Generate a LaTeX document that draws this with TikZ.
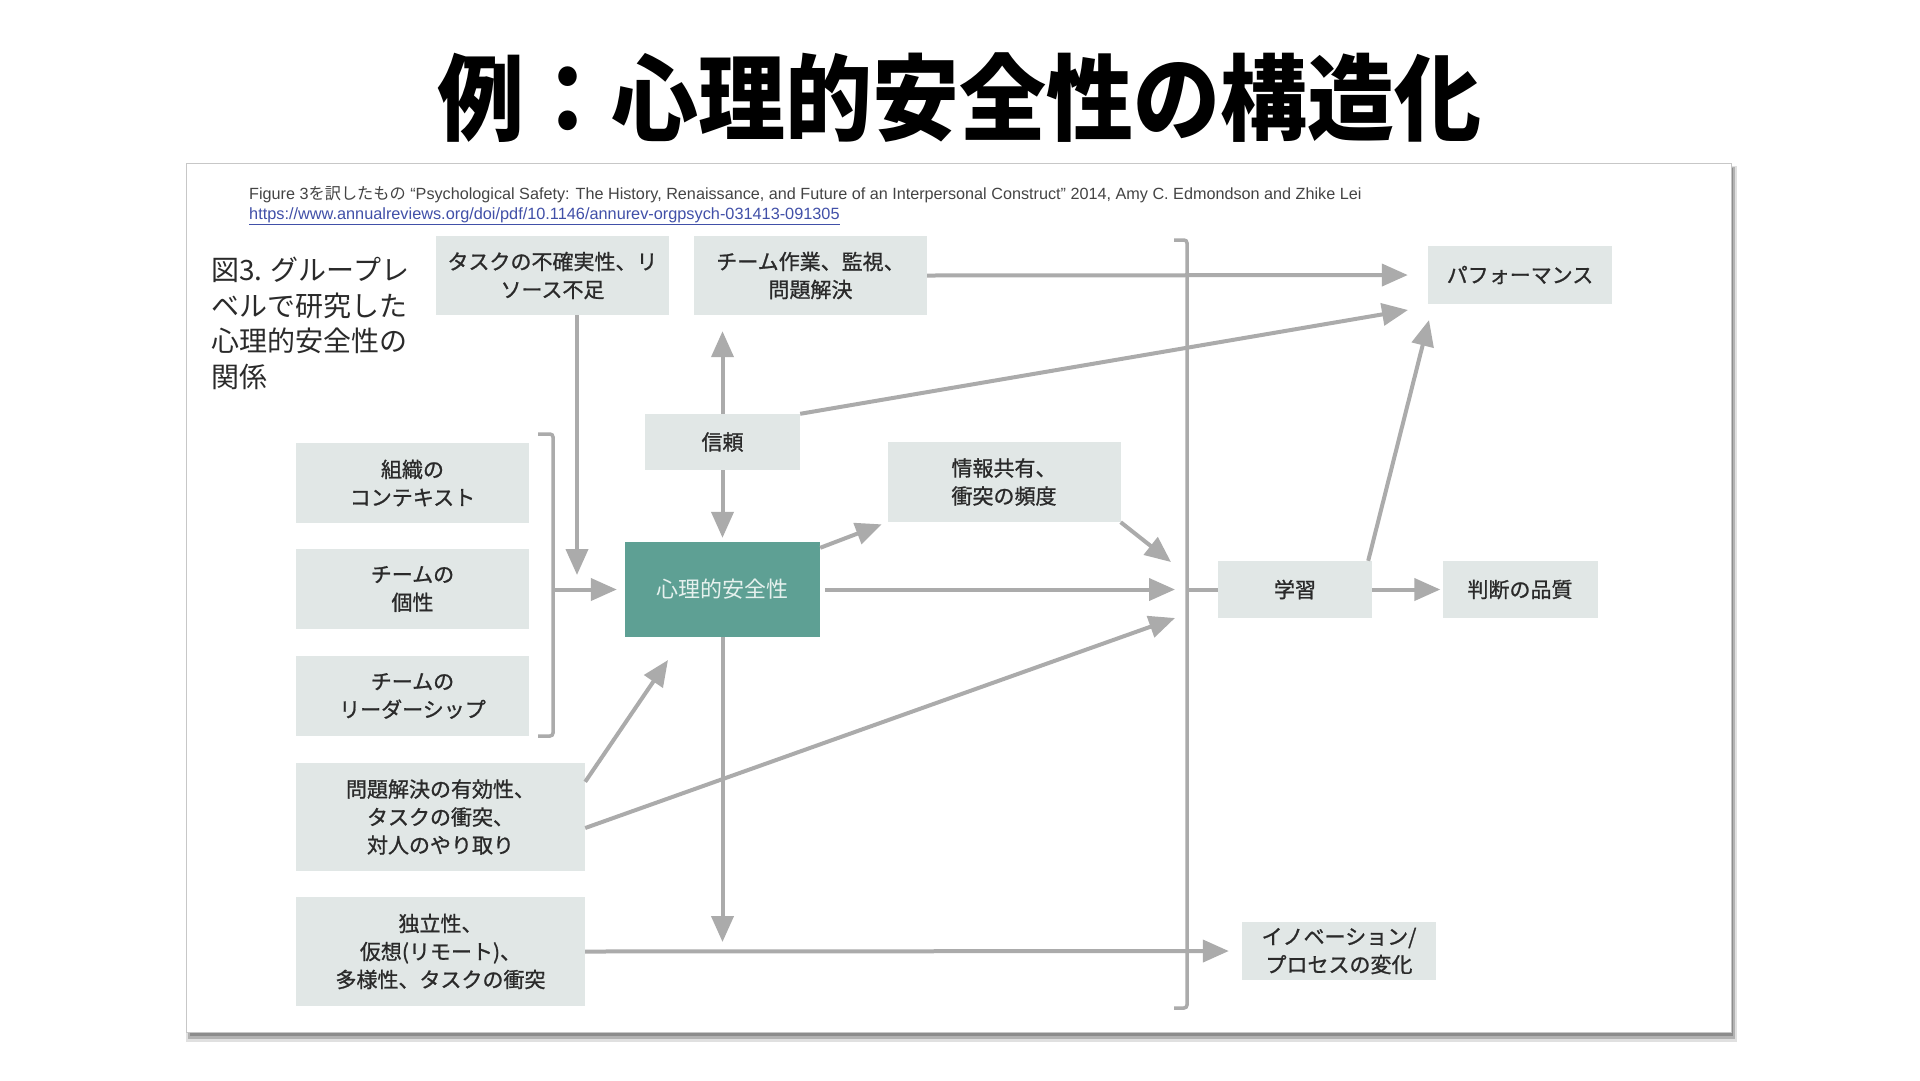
\documentclass[tikz,border=0pt]{standalone}
\usepackage{fontspec}
\setmainfont{Liberation Sans}
\newfontfamily\cjk{Noto Sans CJK JP}
\newfontfamily\cjkbox{Noto Sans CJK JP}[FakeBold=1]
\usetikzlibrary{arrows.meta,calc}
\definecolor{boxfill}{HTML}{E1E7E6}
\definecolor{tealbox}{HTML}{5EA094}
\definecolor{tealtext}{HTML}{E6F1EE}
\definecolor{arrowgray}{HTML}{ABABAB}
\definecolor{txt}{HTML}{2A2A2A}
\definecolor{citegray}{HTML}{444444}
\definecolor{linkblue}{HTML}{4150A8}
\begin{document}
\begin{tikzpicture}[x=1pt,y=-1pt]
\tikzset{
  box/.style={fill=boxfill, inner sep=0pt, align=center, text=txt, font=\cjkbox\fontsize{21}{28}\selectfont},
  arr/.style={draw=arrowgray, line width=4pt, -{Triangle[length=26pt,width=22pt]}},
  bline/.style={draw=arrowgray, line width=3.5pt, rounded corners=3pt},
  plainline/.style={draw=arrowgray, line width=4pt},
}
\useasboundingbox (0,0) rectangle (1920,1080);
\fill[white] (0,0) rectangle (1920,1080);
% title
\node[font=\cjk\bfseries\fontsize{87}{100}\selectfont, text=black, yscale=1.08] (title) at (959,98) {例：心理的安全性の構造化};
% card with shadow
\fill[black!12] (186,166) rectangle (1737,1042);
\fill[black!30] (188,167) rectangle (1735,1039);
\fill[black!45] (190,168) rectangle (1733,1036);
\fill[white, draw=black!22, line width=1pt] (186,163) rectangle (1731,1032);
% citation
\node[anchor=base west, inner sep=0pt, text=citegray, font=\fontsize{16.2}{18}\selectfont] (cite) at (249,199)
  {Figure 3{\cjk を訳したもの} “Psychological Safety: The History, Renaissance, and Future of an Interpersonal Construct” 2014, Amy C. Edmondson and Zhike Lei};
\node[anchor=base west, inner sep=0pt, text=linkblue, font=\fontsize{16.3}{18}\selectfont] (link) at (249,219)
  {\underline{https://www.annualreviews.org/doi/pdf/10.1146/annurev-orgpsych-031413-091305}};
% heading
\node[anchor=north west, inner sep=0pt, align=left, text=txt, font=\cjk\fontsize{28}{35.5}\selectfont] (head) at (211,257)
  {図3. グループレ\\ベルで研究した\\心理的安全性の\\関係};
% boxes
\node[box, minimum width=233pt, minimum height=79pt] (unc) at (552.5,275.5) {タスクの不確実性、リ\\ソース不足};
\node[box, minimum width=233pt, minimum height=79pt] (team) at (810.5,275.5) {チーム作業、監視、\\問題解決};
\node[box, minimum width=184pt, minimum height=58pt] (perf) at (1520,275) {パフォーマンス};
\node[box, minimum width=155pt, minimum height=56pt] (trust) at (722.5,442) {信頼};
\node[box, minimum width=233pt, minimum height=80pt] (info) at (1004,482) {情報共有、\\衝突の頻度};
\node[box, minimum width=233pt, minimum height=80pt] (org) at (412.5,483) {組織の\\コンテキスト};
\node[box, minimum width=233pt, minimum height=80pt] (pers) at (412.5,589) {チームの\\個性};
\node[box, minimum width=233pt, minimum height=80pt] (lead) at (412.5,696) {チームの\\リーダーシップ};
\node[fill=tealbox, inner sep=0pt, minimum width=195pt, minimum height=95pt, text=tealtext, font=\cjk\fontsize{22}{28}\selectfont] (ps) at (722.5,589.5) {心理的安全性};
\node[box, minimum width=154pt, minimum height=57pt] (learn) at (1295,589.5) {学習};
\node[box, minimum width=155pt, minimum height=57pt] (judge) at (1520,589.5) {判断の品質};
\node[box, minimum width=289pt, minimum height=108pt] (prob) at (440.5,817) {問題解決の有効性、\\タスクの衝突、\\対人のやり取り};
\node[box, minimum width=289pt, minimum height=109pt] (indep) at (440.5,951.5) {独立性、\\仮想(リモート)、\\多様性、タスクの衝突};
\node[box, minimum width=194pt, minimum height=58pt] (innov) at (1339,951) {イノベーション/\\プロセスの変化};
% brackets
\draw[bline] (538,434) -- (553,434) -- (553,736) -- (538,736);
\draw[bline] (1174,240) -- (1187,240) -- (1187,1008) -- (1174,1008);
% coordinates
\coordinate (bkL) at (553,589.5);
\coordinate (uncEnd) at (577,575);
\coordinate (perfIn) at (1408,310);
\coordinate (bkA) at (1171,562);
\coordinate (bkB) at (1175,589.5);
\coordinate (bkC) at (1175,618);
\coordinate (bkR) at (1187,589.5);
\coordinate (psIn) at (668,660);
\coordinate (downEnd) at (722.5,942);
\coordinate (perfIn2) at (1429,320);
% connectors
\draw[arr] (unc.south -| uncEnd) -- (uncEnd);
\draw[arr, shorten >=16pt] (trust.north) -- (trust.north |- team.south);
\draw[arr, shorten >=4pt] (trust.south) -- (ps.north);
\draw[arr, shorten >=20pt] (team.east) -- (perf.west);
\draw[arr] (trust.north east) -- (perfIn);
\draw[arr, shorten >=6pt] ([yshift=-6pt]ps.north east) -- (info.south west);
\draw[arr] (info.south east) -- (bkA);
\draw[arr] ([xshift=5pt]ps.east) -- (bkB);
\draw[plainline] (bkR) -- (learn.west);
\draw[arr, shorten >=2pt] (learn.east) -- (judge.west);
\draw[arr] ([xshift=-4pt]learn.north east) -- (perfIn2);
\draw[arr, shorten >=8pt] (bkL) -- (ps.west);
\draw[arr] ([yshift=-19pt]prob.north east) -- (psIn);
\draw[arr] ([yshift=-11pt]prob.east) -- (bkC);
\draw[arr] (ps.south) -- (downEnd);
\draw[arr, shorten >=13pt] (indep.east) -- (innov.west);
\end{tikzpicture}
\end{document}
